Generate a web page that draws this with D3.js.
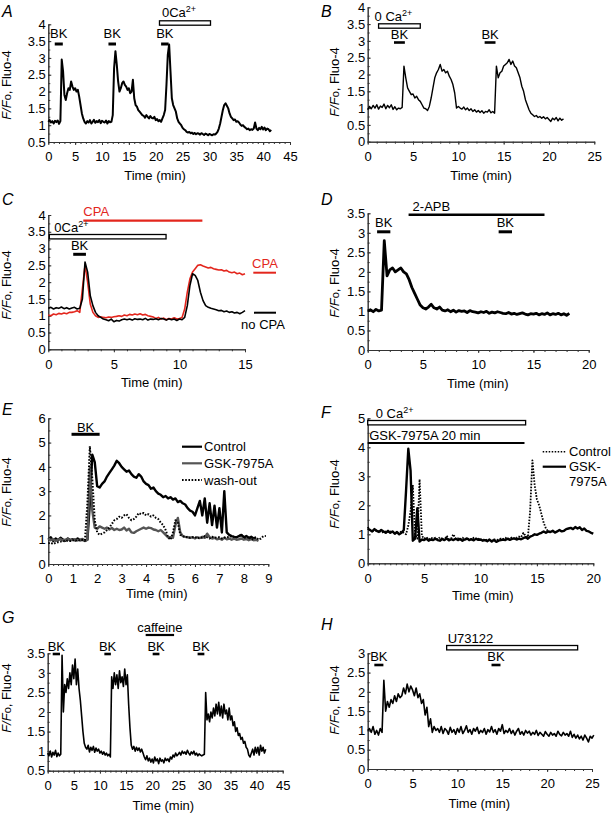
<!DOCTYPE html>
<html><head><meta charset="utf-8">
<script src="https://cdn.jsdelivr.net/npm/d3@7"></script>
<style>
body{margin:0;background:#fff}
svg{display:block;font-family:"Liberation Sans",Arial,Helvetica,sans-serif}
</style></head><body>
<svg id="c" width="613" height="813"></svg>
<script>
// ---------- DATA (each row: [start time (min), values...], sampled every dt min) ----------
const traceA = {dt:0.25, rows:[
 [0, 1.1,1.15,1.08,1.12,1.05,1.13,1.09,1.14,1.04,1.12],
 [2.5, 2.95,2.6,1.9,1.75,1.95,2.1,2.05,2.3,2.15,2.05],
 [5, 2.1,2.0,2.05,1.85,1.6,1.35,1.2,1.1,1.05,1.12],
 [7.5, 1.08,1.15,1.05,1.1,1.16,1.07,1.12,1.09,1.15,1.06],
 [10, 1.13,1.1,1.08,1.14,1.05,1.12,1.09,1.1,1.3,2.7],
 [12.5, 3.2,2.8,2.3,2.0,2.1,2.25,2.3,2.2,2.15,2.05],
 [15, 2.1,1.95,2.0,2.35,1.8,1.6,1.55,1.45,1.4,1.35],
 [17.5, 1.3,1.28,1.22,1.3,1.25,1.2,1.27,1.22,1.2,1.25],
 [20, 1.15,1.18,1.12,1.15,1.1,1.2,1.3,1.45,2.2,3.1],
 [22.5, 3.4,2.6,1.8,1.6,1.5,1.4,1.2,1.1,1.05,1.0],
 [25, 0.92,0.88,0.85,0.8,0.78,0.8,0.76,0.78,0.74,0.77],
 [27.5, 0.73,0.76,0.75,0.72,0.76,0.74,0.71,0.75,0.73,0.7],
 [30, 0.74,0.72,0.7,0.73,0.72,0.75,0.8,0.9,1.05,1.25],
 [32.5, 1.45,1.6,1.65,1.58,1.5,1.35,1.25,1.2,1.15,1.17],
 [35, 1.1,1.12,1.08,1.02,0.98,1.0,0.95,0.92,0.88,0.9],
 [37.5, 0.85,0.88,0.86,0.9,1.08,0.9,0.85,0.92,0.88,0.95],
 [40, 0.87,0.93,0.85,0.9,0.88,0.82,0.86]
]};
const traceB = {dt:0.2, rows:[
 [0, 0.95,1.05,0.98,1.08,1.0,1.1,0.97,1.06,1.02,1.12],
 [2, 0.98,1.08,1.01,1.1,0.96,1.04,0.95,1.0,0.98,1.02],
 [4, 2.25,1.9,1.6,1.5,1.4,1.42,1.3,1.35,1.25,1.2],
 [6, 1.1,1.0,0.98,0.93,1.05,1.3,1.6,1.9,2.05,2.15],
 [8, 2.3,2.1,2.15,2.05,2.1,1.95,1.85,1.7,1.45,1.0],
 [10, 1.05,1.0,0.97,1.03,0.95,1.0,0.93,0.98,0.9,0.95],
 [12, 0.88,0.93,0.87,0.92,0.85,0.9,0.88,0.95,0.86,0.9],
 [14, 0.85,2.25,1.9,2.05,2.1,2.25,2.3,2.35,2.45,2.3],
 [16, 2.4,2.25,2.2,2.05,1.9,1.65,1.5,1.25,1.1,0.95],
 [18, 0.85,0.8,0.75,0.78,0.72,0.75,0.7,0.74,0.68,0.72],
 [20, 0.66,0.6,0.7,0.65,0.72,0.62,0.7,0.64,0.68]
]};
const traceCnoCPA = {dt:0.2, rows:[
 [0, 1.22,1.25,1.2,1.24,1.22,1.26,1.21,1.24,1.2,1.23],
 [2, 1.25,1.2,1.22,1.5,2.6,2.3,1.6,1.3,1.1,1.0],
 [4, 0.95,0.9,0.88,0.85,0.9,0.82,0.86,0.84,0.88,0.9],
 [6, 0.88,0.9,0.87,0.91,0.89,0.9,0.88,0.92,0.87,0.9],
 [8, 0.89,0.91,0.88,0.92,0.9,0.87,0.91,0.88,0.9,0.86],
 [10, 0.9,0.88,0.95,1.3,1.9,2.25,2.2,2.05,1.7,1.45],
 [12, 1.3,1.25,1.22,1.2,1.18,1.15,1.16,1.12,1.14,1.1],
 [14, 1.12,1.08,1.1,1.06,1.1,1.15]
]};
const traceCCPA = {dt:0.2, rows:[
 [0, 1.02,1.0,1.05,1.03,1.07,1.05,1.08,1.06,1.1,1.1],
 [2, 1.12,1.15,1.1,1.8,2.5,2.0,1.35,1.1,1.0,0.95],
 [4, 0.97,0.95,0.94,0.96,0.95,0.97,0.98,1.0,0.98,1.02],
 [6, 1.0,1.04,1.02,1.05,1.03,1.06,1.02,1.04,1.0,0.98],
 [8, 0.96,0.92,0.95,0.9,0.93,0.88,0.92,0.9,0.94,0.9],
 [10, 0.92,0.95,1.2,1.7,2.1,2.3,2.4,2.5,2.52,2.48],
 [12, 2.45,2.42,2.44,2.4,2.38,2.36,2.37,2.33,2.35,2.3],
 [14, 2.28,2.3,2.25,2.27,2.22,2.25]
]};
const traceD = {dt:0.25, rows:[
 [0, 1.0,1.03,0.98,1.04,1.0,1.02,2.8,1.9,2.05,2.1],
 [2.5, 2.0,2.05,2.1,2.0,1.95,1.8,1.6,1.45,1.3,1.15],
 [5, 1.08,1.05,1.1,1.17,1.08,1.05,1.1,1.02,1.0,1.03],
 [7.5, 0.98,1.02,0.97,1.01,0.99,1.0,0.96,1.01,0.98,0.97],
 [10, 0.95,0.98,0.96,0.99,0.94,0.97,0.95,0.98,0.96,0.94],
 [12.5, 0.93,0.96,0.92,0.94,0.91,0.93,0.95,0.92,0.9,0.93],
 [15, 0.92,0.94,0.9,0.93,0.91,0.95,0.9,0.93,0.91,0.94],
 [17.5, 0.9,0.93,0.89,0.94]
]};
const traceEControl = {dt:0.1, rows:[
 [0, 1.0,1.1,0.95,1.05,0.98,1.08,1.0,0.96,1.05,0.98],
 [1, 1.02,0.97,1.05,0.98,1.0,0.95,1.0,2.5,4.5,4.2],
 [2, 3.2,3.15,3.3,3.4,3.6,3.75,3.9,4.05,4.25,4.15],
 [3, 4.0,3.9,3.8,3.85,3.7,3.6,3.55,3.7,3.6,3.4],
 [4, 3.3,3.25,3.1,3.15,3.0,2.9,2.85,2.75,2.8,2.7],
 [5, 2.75,2.65,2.7,2.55,2.6,2.5,2.45,2.3,2.2,2.15],
 [6, 2.0,2.3,2.6,2.0,2.7,1.7,2.5,1.6,2.4,1.5],
 [7, 2.3,1.3,3.0,1.3,1.2,1.15,1.12,1.1,1.15,1.2],
 [8, 1.1,1.15,1.08,1.12,1.05,1.1]
]};
const traceEGSK = {dt:0.1, rows:[
 [0, 1.05,0.98,1.02,0.95,1.0,1.03,0.97,1.0,1.02,0.98],
 [1, 1.0,1.02,0.97,1.0,1.03,0.98,1.0,4.0,2.2,1.5],
 [2, 1.45,1.55,1.5,1.45,1.5,1.42,1.48,1.4,1.45,1.4],
 [3, 1.42,1.5,1.38,1.45,1.3,1.28,1.35,1.4,1.45,1.5],
 [4, 1.45,1.5,1.48,1.42,1.4,1.35,1.4,1.3,1.2,1.1],
 [5, 1.1,1.08,1.6,1.9,1.3,1.15,1.12,1.1,1.08,1.1],
 [6, 1.05,1.1,1.07,1.12,1.08,1.25,1.1,1.05,1.08,1.02],
 [7, 1.05,1.0,1.08,1.02,1.05,1.0,1.04,1.0,1.02,1.05],
 [8, 1.0,1.03,0.98,1.02,0.98,1.0,0.95]
]};
const traceEWash = {dt:0.1, rows:[
 [0, 0.85,0.88,0.82,0.87,0.9,0.92,0.95,0.93,0.97,0.95],
 [1, 0.98,0.95,1.0,0.97,1.0,0.98,2.5,4.85,3.5,1.8],
 [2, 1.3,1.2,1.25,1.3,1.4,1.5,1.65,1.8,1.85,1.95],
 [3, 1.9,2.0,2.05,1.9,1.8,1.85,1.95,2.1,2.05,2.1],
 [4, 2.0,2.05,1.95,2.0,1.9,1.85,1.7,1.6,1.4,1.1],
 [5, 1.0,1.3,1.8,1.7,1.2,1.15,1.1,1.12,1.08,1.1],
 [6, 1.12,1.05,1.1,1.08,1.15,1.1,1.05,1.12,1.08,1.1],
 [7, 1.1,1.05,1.08,1.12,1.1,1.15,1.12,1.1,1.15,1.2],
 [8, 1.1,1.05,1.12,1.0,1.05,1.1,1.0,1.05,1.15,1.15]
]};
const traceFGSK = {dt:0.2, rows:[
 [0, 1.2,1.15,1.1,1.18,1.12,1.08,1.15,1.1,1.05,1.12],
 [2, 1.05,1.1,1.02,1.08,1.0,1.05,1.15,2.5,3.95,3.2],
 [4, 0.78,0.85,1.9,0.75,0.82,0.8,0.85,0.78,0.82,0.8],
 [6, 0.85,0.8,0.78,0.84,0.8,0.86,0.79,0.83,0.8,0.85],
 [8, 0.8,0.84,0.78,0.82,0.86,0.8,0.83,0.79,0.85,0.81],
 [10, 0.82,0.78,0.8,0.76,0.82,0.75,0.8,0.74,0.78,0.8],
 [12, 0.82,0.8,0.85,0.81,0.84,0.86,0.82,0.85,0.83,0.87],
 [14, 0.9,0.85,0.92,0.95,1.0,0.98,1.02,1.05,1.1,1.05],
 [16, 1.1,1.08,1.12,1.06,1.1,1.15,1.1,1.12,1.18,1.2],
 [18, 1.22,1.18,1.25,1.2,1.24,1.15,1.2,1.12,1.1,1.05],
 [20, 1.02]
]};
const traceFControl = {dt:0.2, rows:[
 [0, 1.25,1.15,1.12,1.1,1.15,1.08,1.12,1.05,1.1,1.08],
 [2, 1.1,1.05,1.08,1.0,1.05,1.1,1.05,1.0,1.3,1.8],
 [4, 2.7,1.0,0.85,2.9,0.95,0.85,0.9,0.82,0.88,0.85],
 [6, 0.88,0.82,0.9,0.85,0.8,0.95,0.83,0.86,1.0,0.84],
 [8, 0.86,0.82,0.88,0.84,0.8,0.86,0.82,0.88,0.84,0.85],
 [10, 0.8,0.84,0.78,0.82,0.8,0.78,0.83,0.8,0.82,0.85],
 [12, 0.84,0.88,0.83,0.86,0.9,0.85,0.88,0.92,0.9,1.05],
 [14, 0.95,0.9,1.8,3.55,2.7,2.2,2.0,1.7,1.4,1.2],
 [16, 1.1,1.05]
]};
const traceG = {dt:0.25, rows:[
 [0, 0.95,0.88,1.0,0.85,0.97,0.9,1.02,0.86,0.95,0.88],
 [2.5, 0.92,3.45,2.0,2.7,2.5,2.85,2.6,3.0,2.7,3.2],
 [5, 2.85,3.35,2.7,3.1,2.6,2.3,1.9,1.5,1.2,1.1],
 [7.5, 1.05,1.15,0.98,1.1,1.02,1.12,0.97,1.08,1.0,1.05],
 [10, 0.95,1.0,0.92,0.98,0.9,0.95,0.88,0.92,0.85,2.9],
 [12.5, 2.6,3.0,2.7,2.95,2.6,3.05,2.75,2.9,2.65,3.1],
 [15, 2.7,2.95,2.2,1.6,1.15,1.05,1.12,1.0,1.1,1.02],
 [17.5, 1.08,0.98,1.05,0.95,0.85,0.78,0.88,0.75,0.82,0.72],
 [20, 0.8,0.7,0.85,0.75,0.8,0.68,0.82,0.74,0.78,0.7],
 [22.5, 0.82,0.76,0.8,0.73,0.85,0.8,0.9,0.85,0.95,0.88],
 [25, 0.92,0.97,0.9,1.0,0.94,0.98,0.92,1.02,0.95,0.9],
 [27.5, 0.98,0.93,1.0,0.9,0.95,0.88,0.93,0.9,0.88,0.9],
 [30, 0.92,2.5,1.8,1.95,1.75,2.0,1.85,2.1,1.9,2.2],
 [32.5, 1.95,2.25,1.9,2.15,1.85,2.2,1.95,2.05,1.8,2.1],
 [35, 1.8,1.9,1.65,1.75,1.5,1.6,1.4,1.45,1.3,1.35],
 [37.5, 1.2,1.25,1.1,1.05,0.9,0.85,0.95,1.05,0.9,1.1],
 [40, 0.95,1.1,0.9,1.15,1.0,1.1,0.95,1.05]
]};
const traceH = {dt:0.2, rows:[
 [0, 1.0,1.05,0.95,1.1,0.9,1.0,0.88,1.05,0.95,2.3],
 [2, 1.5,1.75,1.6,1.8,1.7,1.9,1.75,1.95,1.85,1.9],
 [4, 2.1,1.95,2.2,2.0,2.15,2.05,1.9,2.1,1.85,1.95],
 [6, 1.7,1.8,1.4,1.6,1.1,1.3,0.95,1.1,1.0,1.05],
 [8, 0.95,1.1,0.92,1.05,1.0,0.9,1.08,0.95,1.02,0.9],
 [10, 1.05,0.95,1.1,0.92,1.0,1.12,0.95,1.02,0.9,1.05],
 [12, 0.98,1.08,0.92,1.0,0.95,1.05,0.9,1.02,0.96,1.1],
 [14, 0.95,1.02,0.9,1.05,0.98,1.15,0.92,1.0,0.95,1.05],
 [16, 0.92,1.0,0.88,0.98,1.05,0.9,0.97,0.88,1.0,0.93],
 [18, 0.98,0.88,0.95,0.9,1.0,0.87,0.95,0.9,0.85,0.97],
 [20, 0.9,0.85,0.95,0.88,0.92,0.85,0.98,0.9,0.86,0.95],
 [22, 0.88,0.92,0.85,0.98,0.82,0.9,0.8,0.88,0.78,0.85],
 [24, 0.75,0.88,0.8,0.7,0.85,0.8,0.88]
]};

// application periods (min)
const bkA = [[1.2,2.7],[11.2,12.6],[21.0,22.4]];
const caA = [[20.7,30.2]];
const caB = [[1.2,5.8]];
const bkB = [[2.9,4.1],[12.9,14.1]];
const cpaC = [[2.67,11.75]];
const caC = [[0.08,8.98]];
const bkC = [[1.9,2.87]];
const bkD = [[0.85,2.05],[11.85,13.06]];
const apbD = [[3.7,16.0]];
const bkE = [[0.95,2.1]];
const caF = [[0,14.0]];
const gskF = [[0,13.9]];
const bkG = [[0.96,2.36],[10.85,12.1],[20.1,21.4],[28.7,30.0]];
const cafG = [[18.76,24.2]];
const bkH = [[0.74,1.75],[13.8,14.8]];
const u7H = [[8.8,23.4]];

// ---------- DRAWING ----------
const svg = d3.select('#c');
const RED = '#e3261d';
function pts(tr){const out=[];tr.rows.forEach(r=>r.slice(1).forEach((v,i)=>out.push([r[0]+i*tr.dt,v])));return out;}
const rng=(a,b,s)=>d3.range(Math.round((b-a)/s)+1).map(i=>+(a+i*s).toFixed(4));
const fmt=d=>d3.format('~g')(d);

function panel(p){
  const x=d3.scaleLinear().domain(p.xDom).range([p.px0,p.px1]);
  const y=d3.scaleLinear().domain(p.yDom).range([p.pyB,p.pyT]);
  const g=svg.append('g');
  const style=s=>{s.attr('font-family',null).attr('font-size',13);
    s.selectAll('.domain,.tick line').attr('stroke','#333').attr('stroke-width',1);
    s.selectAll('text').attr('fill','#000');};
  g.append('g').attr('transform',`translate(0,${p.pyB})`)
    .call(d3.axisBottom(x).tickValues(rng(p.xDom[0],p.xDom[1],p.xm)).tickSize(2).tickSizeOuter(0).tickFormat('')).call(style);
  g.append('g').attr('transform',`translate(0,${p.pyB})`)
    .call(d3.axisBottom(x).tickValues(rng(p.xDom[0],p.xDom[1],p.xt)).tickSize(3).tickSizeOuter(0).tickPadding(7).tickFormat(fmt)).call(style);
  g.append('g').attr('transform',`translate(${p.px0},0)`)
    .call(d3.axisLeft(y).tickValues(rng(p.yDom[0],p.yDom[1],p.ym)).tickSize(-2).tickSizeOuter(0).tickFormat('')).call(style);
  g.append('g').attr('transform',`translate(${p.px0},0)`)
    .call(d3.axisLeft(y).tickValues(rng(p.yDom[0],p.yDom[1],p.yt)).tickSize(-3).tickSizeOuter(0).tickPadding(2.5).tickFormat(fmt)).call(style);
  // letter
  svg.append('text').attr('x',p.letter[0]).attr('y',p.letter[1]).attr('font-size',16).attr('font-style','italic').text(p.id);
  // y title
  const yt=svg.append('text').attr('transform',`translate(${p.ytitle[0]},${p.ytitle[1]}) rotate(-90)`)
    .attr('text-anchor','middle').attr('dy','0.35em').attr('font-size',13);
  yt.append('tspan').attr('font-style','italic').text('F/F');
  yt.append('tspan').attr('font-size',11).text('o');
  yt.append('tspan').text(', Fluo-4');
  // x title
  svg.append('text').attr('x',p.xtitle[0]).attr('y',p.xtitle[1]).attr('text-anchor','middle').attr('dy','0.35em').attr('font-size',13).text('Time (min)');
  return {g,x,y};
}
function trace(P,data,opt){
  const line=d3.line().x(d=>P.x(d[0])).y(d=>P.y(d[1]));
  P.g.append('path').datum(data).attr('d',line).attr('fill','none')
    .attr('stroke',opt.color||'#000').attr('stroke-width',opt.w||1.6)
    .attr('stroke-linejoin','round').attr('stroke-dasharray',opt.dash||null);
}
function solidBar(P,r,py,w,color){
  svg.append('line').attr('x1',P.x(r[0])).attr('x2',P.x(r[1])).attr('y1',py).attr('y2',py)
    .attr('stroke',color||'#000').attr('stroke-width',w||3);
}
function openBar(P,r,py){
  svg.append('rect').attr('x',P.x(r[0])).attr('y',py-2.2).attr('width',P.x(r[1])-P.x(r[0])).attr('height',4.4)
    .attr('fill','#fff').attr('stroke','#000').attr('stroke-width',1.3);
}
function label(xp,yp,str,anchor,color,sup){
  const t=svg.append('text').attr('x',xp).attr('y',yp).attr('font-size',13).attr('text-anchor',anchor||'middle').attr('fill',color||'#000').text(str);
  if(sup){t.append('tspan').attr('font-size',9).attr('dy',-5).text(sup);}
  return t;
}
const mid=(P,r)=>P.x((r[0]+r[1])/2);

// Panel A
const PA=panel({id:'A',px0:48.3,px1:290,pyB:142,pyT:24.3,xDom:[0,45],yDom:[0.5,4],xt:5,xm:1,yt:0.5,ym:0.25,letter:[2,17],ytitle:[6.7,85],xtitle:[155,175]});
trace(PA,pts(traceA),{w:2});
bkA.forEach(r=>{solidBar(PA,r,44);label(mid(PA,r),38,'BK');});
caA.forEach(r=>{openBar(PA,r,23);label(mid(PA,r)-6,17,'0Ca','middle',null,'2+');});

// Panel B
const PB=panel({id:'B',px0:367.7,px1:594.3,pyB:141.7,pyT:7.3,xDom:[0,25],yDom:[0,4],xt:5,xm:1,yt:0.5,ym:0.25,letter:[321,17],ytitle:[334,82],xtitle:[481,175]});
trace(PB,pts(traceB),{w:1.4});
caB.forEach(r=>{openBar(PB,r,26);label(mid(PB,r)-6,20.5,'0 Ca','middle',null,'2+');});
bkB.forEach(r=>{solidBar(PB,r,42.5,2.6);label(mid(PB,r),39,'BK');});

// Panel C
const PC=panel({id:'C',px0:48.3,px1:245,pyB:349.3,pyT:215,xDom:[0,15],yDom:[0,4],xt:5,xm:1,yt:0.5,ym:0.25,letter:[2,205],ytitle:[6.7,285],xtitle:[151.7,382.7]});
trace(PC,pts(traceCCPA),{w:1.6,color:RED});
trace(PC,pts(traceCnoCPA),{w:1.6});
cpaC.forEach(r=>{solidBar(PC,r,220.7,2.2,RED);label(PC.x(r[0]),215.5,'CPA','start',RED);});
caC.forEach(r=>{openBar(PC,r,236.7);label(PC.x(r[0])+5,232,'0Ca','start',null,'2+');});
bkC.forEach(r=>{solidBar(PC,r,254.3);label(mid(PC,r),249.5,'BK');});
svg.append('line').attr('x1',253.3).attr('x2',276).attr('y1',272.7).attr('y2',272.7).attr('stroke',RED).attr('stroke-width',2);
label(265,268,'CPA','middle',RED);
svg.append('line').attr('x1',254).attr('x2',276).attr('y1',312.7).attr('y2',312.7).attr('stroke','#000').attr('stroke-width',2);
label(263,329,'no CPA');

// Panel D
const PD=panel({id:'D',px0:367.7,px1:588.7,pyB:350,pyT:213.3,xDom:[0,20],yDom:[0,3.5],xt:5,xm:1,yt:0.5,ym:0.25,letter:[321,205],ytitle:[334,283],xtitle:[477.7,383.3]});
trace(PD,pts(traceD),{w:2.8});
bkD.forEach(r=>{solidBar(PD,r,231.8);label(mid(PD,r),227,'BK');});
apbD.forEach(r=>{solidBar(PD,r,214.7,2.4);label(PD.x(r[0])+4,210.5,'2-APB','start');});

// Panel E
const PE=panel({id:'E',px0:48.3,px1:268.3,pyB:564,pyT:418.3,xDom:[0,9],yDom:[0,6],xt:1,xm:0.2,yt:1,ym:0.5,letter:[2,415],ytitle:[6.7,492],xtitle:[156.7,593.3]});
trace(PE,pts(traceEControl),{w:2.4});
trace(PE,pts(traceEGSK),{w:2.4,color:'#555'});
trace(PE,pts(traceEWash),{w:2,dash:'1.6,1.6'});
bkE.forEach(r=>{solidBar(PE,r,434.3);label(mid(PE,r),431.5,'BK');});
[[446.7,'Control','#000',null,2.2],[463.3,'GSK-7975A','#555',null,2.2],[480,'wash-out','#000','1.6,1.6',2]].forEach(l=>{
  svg.append('line').attr('x1',182).attr('x2',202).attr('y1',l[0]).attr('y2',l[0]).attr('stroke',l[2]).attr('stroke-width',l[4]).attr('stroke-dasharray',l[3]);
  label(204,l[0]+4.5,l[1],'start');
});

// Panel F
const PF=panel({id:'F',px0:367.7,px1:593.3,pyB:563.3,pyT:418.3,xDom:[0,20],yDom:[0,5],xt:5,xm:0.5,yt:1,ym:0.5,letter:[321,418],ytitle:[334,494],xtitle:[482.7,595]});
trace(PF,pts(traceFControl),{w:1.8,dash:'1.6,1.4'});
trace(PF,pts(traceFGSK),{w:2.4});
caF.forEach(r=>{openBar(PF,r,422.7);label(PF.x(r[0])+8,418,'0 Ca','start',null,'2+');});
gskF.forEach(r=>{solidBar(PF,r,443,2.2);label(PF.x(r[0])+1.5,439.5,'GSK-7975A 20 min','start');});
svg.append('line').attr('x1',542.7).attr('x2',566).attr('y1',451.7).attr('y2',451.7).attr('stroke','#000').attr('stroke-width',1.6).attr('stroke-dasharray','1.5,1.5');
label(569,456,'Control','start');
svg.append('line').attr('x1',542.7).attr('x2',566).attr('y1',466.7).attr('y2',466.7).attr('stroke','#000').attr('stroke-width',2.2);
label(569,471,'GSK-','start');
label(569,485.5,'7975A','start');

// Panel G
const PG=panel({id:'G',px0:47.7,px1:282.7,pyB:770.7,pyT:653.3,xDom:[0,45],yDom:[0.5,3.5],xt:5,xm:1,yt:0.5,ym:0.25,letter:[2,623],ytitle:[6.7,698],xtitle:[163.3,805]});
trace(PG,pts(traceG),{w:1.6});
bkG.forEach(r=>{solidBar(PG,r,654,2.6);label(mid(PG,r),651,'BK');});
cafG.forEach(r=>{solidBar(PG,r,635,2.2);label(mid(PG,r),632,'caffeine');});

// Panel H
const PH=panel({id:'H',px0:367.7,px1:592,pyB:769,pyT:653.3,xDom:[0,25],yDom:[0,3],xt:5,xm:1,yt:0.5,ym:0.25,letter:[321,630],ytitle:[334,700],xtitle:[479.3,803]});
trace(PH,pts(traceH),{w:1.6});
bkH.forEach(r=>{solidBar(PH,r,665,2.6);label(mid(PH,r),661,'BK');});
u7H.forEach(r=>{openBar(PH,r,647.7);label(PH.x(r[0])+1,643,'U73122','start');});
</script>
</body></html>
